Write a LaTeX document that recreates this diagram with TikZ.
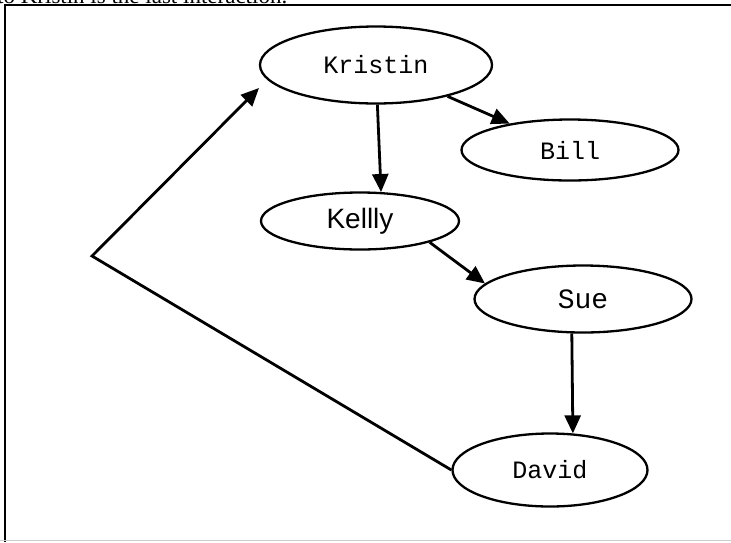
\documentclass[tikz,border=0pt]{standalone}
\usepackage{fontspec}
\setmainfont{Liberation Serif}
\newfontfamily\namefont{Liberation Mono}
\newfontfamily\kellyfont{Liberation Sans}
\usetikzlibrary{shapes.geometric,arrows.meta}

\begin{document}
\begin{tikzpicture}[x=1pt, y=-1pt,
    person/.style={draw, ellipse, line width=2.3pt, inner sep=0pt,
        font=\namefont\fontsize{25}{28}\selectfont},
    link/.style={line width=2.8pt, -{Triangle[length=18pt,width=16pt]}}]

    % page area
    \useasboundingbox (0,0) rectangle (731,542);
    \clip (0,0) rectangle (731,542);

    % text above the frame (cut off)
    \node[anchor=base west, inner sep=0pt, font=\fontsize{23}{25}\selectfont] (caption) at (-3,3.3) {to Kristin is the last interaction.};

    % frame
    \draw[line width=2.5pt] (731,5) -- (5,5) -- (5,542);
    \draw[black!20, line width=1pt] (0,540.5) -- (731,540.5);

    % =====================================================
    % People
    % =====================================================
    \node[person, minimum width=232pt, minimum height=77pt] (kristin) at (376,65) {Kristin};
    \node[person, minimum width=217pt, minimum height=61pt] (bill) at (570,150) {Bill};
    \node[person, minimum width=198pt, minimum height=57pt,
          font=\kellyfont\fontsize{28}{30}\selectfont] (kellly) at (360,221) {Kellly};
    \node[person, minimum width=217pt, minimum height=67pt,
          font=\namefont\fontsize{28}{30}\selectfont] (sue) at (583,299) {Sue};
    \node[person, minimum width=195pt, minimum height=73pt] (david) at (550,470) {David};

    \coordinate (bend) at (92,256);
    \coordinate (back) at (259,88);

    % =====================================================
    % Interactions
    % =====================================================
    \draw[link] (kristin.-88) -- (kellly.54);
    \draw[link] (kristin) -- (bill);
    \draw[link] (kellly.-17) -- (sue.171);
    \draw[link] (sue.-108) -- (david.58);
    \draw[link] (david.west) -- (bend) -- (back);

\end{tikzpicture}
\end{document}
